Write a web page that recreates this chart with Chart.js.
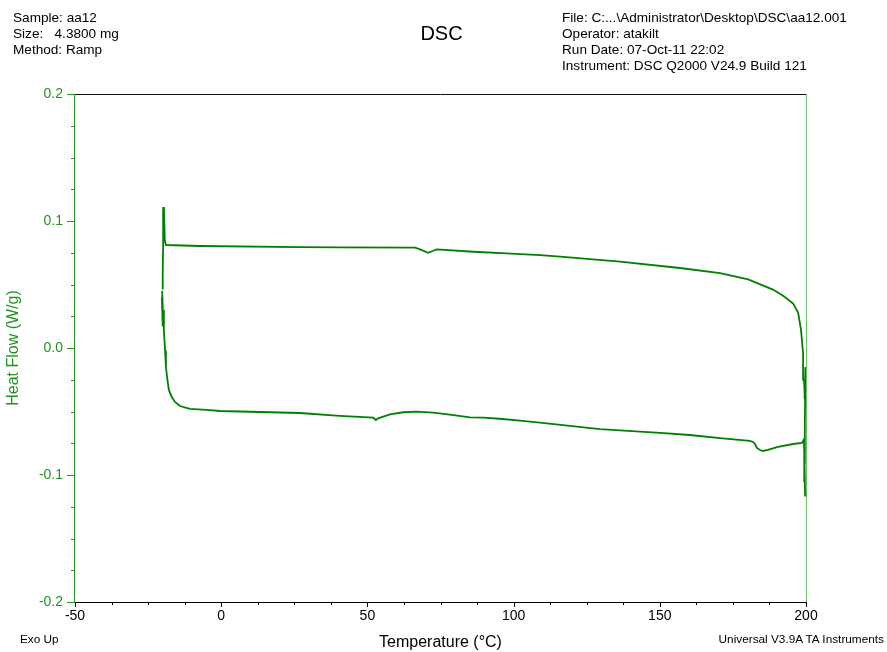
<!DOCTYPE html>
<html>
<head>
<meta charset="utf-8">
<script src="https://cdn.jsdelivr.net/npm/chart.js@4/dist/chart.umd.min.js"></script>
<style>
  body { margin:0; background:#fff; font-family:"Liberation Sans", Arial, sans-serif; }
  #wrap { position:relative; width:887px; height:652px; }
  canvas { position:absolute; left:0; top:0; }
  .txt { position:absolute; font-size:13.6px; line-height:16px; color:#000; white-space:pre; }
  .small { position:absolute; font-size:11.8px; line-height:13px; color:#000; white-space:pre; }
</style>
</head>
<body>
<div id="wrap">
  <canvas id="dsc" width="887" height="652"></canvas>
  <div class="txt" style="left:13px;top:10px">Sample: aa12
Size:   4.3800 mg
Method: Ramp</div>
  <div class="txt" style="left:0;width:883px;top:22px;text-align:center;font-size:20px;line-height:22px">DSC</div>
  <div class="txt" style="left:562px;top:10px">File: C:...\Administrator\Desktop\DSC\aa12.001
Operator: atakilt
Run Date: 07-Oct-11 22:02
Instrument: DSC Q2000 V24.9 Build 121</div>
  <div class="small" style="left:20px;top:633px">Exo Up</div>
  <div class="small" style="right:3px;top:633px">Universal V3.9A TA Instruments</div>
</div>
<script>
// heating run, -20 -> 200 °C (lower trace, then the jump at 200)
const heatT  = [-20.2, -19.8, -20.3, -20.0, -19.7, -19.6, -19.2, -18.9, -18.4, -17.9, -16.9, -15.8, -14.1, -10.7, -5.0, -0.4, 26.9, 40.6, 52.0, 52.9, 53.7, 57.7, 62.3, 66.9, 72.5, 78.2, 85.1, 89.6, 95.3, 102.2, 109.0, 129.5, 150.1, 160.3, 170.6, 180.8, 181.9, 182.6, 183.2, 184.3, 185.3, 187.0, 190.1, 195.6, 198.6, 199.3, 199.6, 199.4, 199.7, 199.5, 199.6, 199.8, 199.5, 199.8, 199.6, 199.7];
const heatHF = [0.045, 0.020, 0.040, 0.017, 0.030, 0.014, -0.002, -0.015, -0.025, -0.033, -0.0386, -0.0425, -0.0457, -0.048, -0.0488, -0.0496, -0.0512, -0.0535, -0.0549, -0.0567, -0.0554, -0.0522, -0.0506, -0.0501, -0.0509, -0.0525, -0.0546, -0.0549, -0.0557, -0.0572, -0.0588, -0.0638, -0.0669, -0.0685, -0.0709, -0.0732, -0.074, -0.0756, -0.0787, -0.0803, -0.0811, -0.0803, -0.078, -0.0756, -0.0748, -0.072, -0.105, -0.085, -0.117, -0.090, -0.060, -0.020, -0.040, -0.015, -0.035, -0.041];
// cooling run, 200 -> -20 °C (upper trace)
const coolT  = [199.7, 199.3, 199.0, 198.3, 197.3, 195.6, 192.3, 188.7, 180.2, 170.6, 156.9, 136.4, 115.9, 109.0, 97.6, 86.2, 73.7, 72.5, 70.8, 68.0, 66.3, 40.6, 26.9, -7.3, -18.9, -19.3, -19.6, -19.8, -19.9, -20.0, -20.0];
const coolHF = [-0.041, -0.025, -0.004, 0.014, 0.028, 0.035, 0.041, 0.046, 0.054, 0.059, 0.063, 0.068, 0.072, 0.0732, 0.0745, 0.0758, 0.0777, 0.0766, 0.075, 0.0777, 0.079, 0.0793, 0.0795, 0.0803, 0.0811, 0.085, 0.111, 0.105, 0.082, 0.060, 0.046];

const xTicks = [-50, 0, 50, 100, 150, 200];
const yTicks = [-0.2, -0.1, 0.0, 0.1, 0.2];

const FONT = '"Liberation Sans", Arial, sans-serif';
const GREEN = '#008000';

const pts = (xs, ys) => xs.map((x, i) => ({ x, y: ys[i] }));

const frame = {
  id: 'frame',
  afterDraw(chart) {
    const { ctx, chartArea: a, scales: { x, y } } = chart;
    ctx.save();
    ctx.lineWidth = 1;
    // top border
    ctx.strokeStyle = '#111';
    ctx.beginPath(); ctx.moveTo(a.left, a.top + 0.5); ctx.lineTo(a.right, a.top + 0.5); ctx.stroke();
    // right border
    ctx.strokeStyle = '#6cbf6c';
    ctx.beginPath(); ctx.moveTo(a.right + 0.5, a.top); ctx.lineTo(a.right + 0.5, a.bottom); ctx.stroke();
    // x axis + ticks
    ctx.strokeStyle = '#000';
    ctx.beginPath(); ctx.moveTo(a.left - 1, a.bottom + 0.5); ctx.lineTo(a.right + 1, a.bottom + 0.5); ctx.stroke();
    for (let v = -50; v <= 200; v += 12.5) {
      const px = Math.round(x.getPixelForValue(v)) + 0.5;
      const len = v % 50 === 0 ? 5 : 3;
      ctx.beginPath(); ctx.moveTo(px, a.bottom); ctx.lineTo(px, a.bottom + len); ctx.stroke();
    }
    // y axis + ticks
    ctx.strokeStyle = '#229922';
    ctx.beginPath(); ctx.moveTo(a.left - 0.5, a.top); ctx.lineTo(a.left - 0.5, a.bottom + 1); ctx.stroke();
    for (let i = 0; i <= 16; i++) {
      const v = -0.2 + i * 0.025;
      const py = Math.round(y.getPixelForValue(v)) + 0.5;
      const len = i % 4 === 0 ? 7 : 3;
      ctx.beginPath(); ctx.moveTo(a.left - 1, py); ctx.lineTo(a.left - 1 - len, py); ctx.stroke();
    }
    ctx.restore();
  }
};

new Chart(document.getElementById('dsc'), {
  type: 'scatter',
  data: {
    datasets: [
      { data: pts(heatT, heatHF), showLine: true, borderColor: GREEN, borderWidth: 1.8, pointRadius: 0, tension: 0 },
      { data: pts(coolT, coolHF), showLine: true, borderColor: GREEN, borderWidth: 1.8, pointRadius: 0, tension: 0 }
    ]
  },
  options: {
    responsive: false,
    animation: false,
    layout: { padding: { left: 0, right: 81, top: 94, bottom: 0 } },
    plugins: { legend: { display: false }, tooltip: { enabled: false } },
    scales: {
      x: {
        type: 'linear', min: -50, max: 200,
        afterBuildTicks: s => { s.ticks = xTicks.map(v => ({ value: v })); },
        afterFit: s => { s.height = 50; },
        grid: { display: false, drawTicks: false },
        border: { display: false },
        ticks: { color: '#000', font: { family: FONT, size: 14 }, padding: 6, maxRotation: 0 },
        title: { display: true, text: 'Temperature (°C)', color: '#000', font: { family: FONT, size: 16 }, padding: { top: 2, bottom: 0 } }
      },
      y: {
        type: 'linear', min: -0.2, max: 0.2,
        afterBuildTicks: s => { s.ticks = yTicks.map(v => ({ value: v })); },
        afterFit: s => { s.width = 75; },
        grid: { display: false, drawTicks: false },
        border: { display: false },
        ticks: { color: '#1f941f', font: { family: FONT, size: 14 }, padding: 12, callback: v => v.toFixed(1) },
        title: { display: true, text: 'Heat Flow (W/g)', color: '#1f941f', font: { family: FONT, size: 16 }, padding: { top: 4, bottom: 0 } }
      }
    }
  },
  plugins: [frame]
});
</script>
</body>
</html>
